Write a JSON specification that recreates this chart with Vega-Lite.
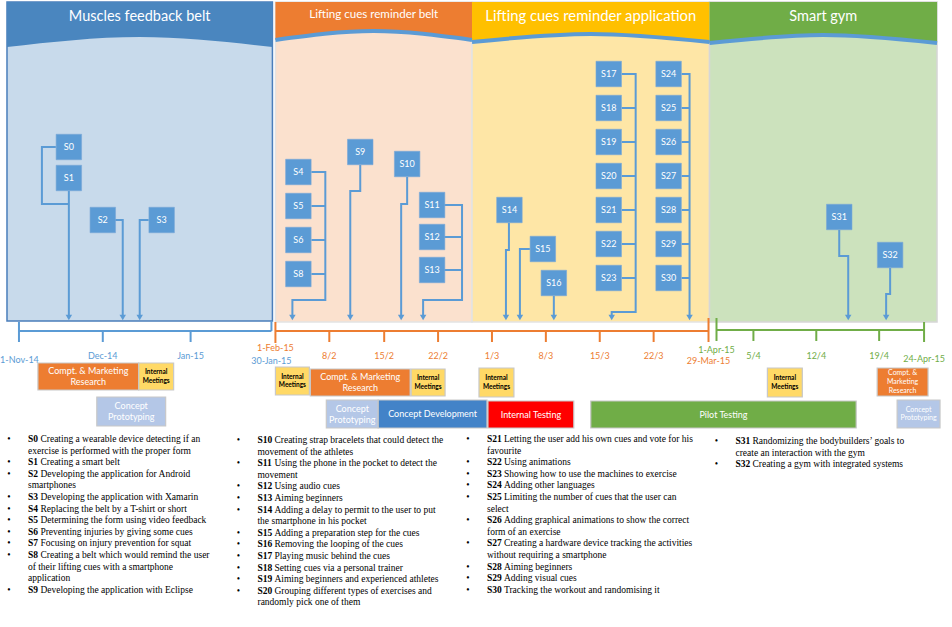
{
  "$schema": "https://vega.github.io/schema/vega-lite/v6.json",
  "width": 952,
  "height": 627,
  "autosize": {"type": "fit", "contains": "padding"},
  "padding": 0,
  "background": "white",
  "config": {"view": {"stroke": null}},
  "datasets": {
    "panels": [
      {"p": "A", "x": 5, "x2": 271, "y": 2, "y2": 321},
      {"p": "B", "x": 274, "x2": 471, "y": 2, "y2": 322},
      {"p": "C", "x": 471, "x2": 709, "y": 2, "y2": 322},
      {"p": "D", "x": 709, "x2": 937, "y": 2, "y2": 322}
    ],
    "hdr": [
      {"p": "A", "x": 5, "y": 47, "y2": 2},
      {"p": "A", "x": 138, "y": 37, "y2": 2},
      {"p": "A", "x": 271, "y": 47, "y2": 2},
      {"p": "B", "x": 274, "y": 40, "y2": 2},
      {"p": "B", "x": 372.5, "y": 31, "y2": 2},
      {"p": "B", "x": 471, "y": 40, "y2": 2},
      {"p": "C", "x": 471, "y": 42, "y2": 2},
      {"p": "C", "x": 590, "y": 34, "y2": 2},
      {"p": "C", "x": 709, "y": 42, "y2": 2},
      {"p": "D", "x": 709, "y": 43, "y2": 2},
      {"p": "D", "x": 823, "y": 35, "y2": 2},
      {"p": "D", "x": 937, "y": 43, "y2": 2}
    ],
    "titles": [
      {"p": "A", "x": 138, "y": 17, "t": "Muscles feedback belt"},
      {"p": "B", "x": 372.5, "y": 15, "t": "Lifting cues reminder belt"},
      {"p": "C", "x": 590, "y": 17, "t": "Lifting cues reminder application"},
      {"p": "D", "x": 823, "y": 17, "t": "Smart gym"}
    ],
    "links": [
      {"g": "s0", "o": 1, "x": 54, "y": 147}, {"g": "s0", "o": 2, "x": 40, "y": 147}, {"g": "s0", "o": 3, "x": 40, "y": 204}, {"g": "s0", "o": 4, "x": 67, "y": 204},
      {"g": "s1", "o": 1, "x": 67, "y": 191}, {"g": "s1", "o": 2, "x": 67, "y": 316},
      {"g": "s2", "o": 1, "x": 113, "y": 220}, {"g": "s2", "o": 2, "x": 121, "y": 220}, {"g": "s2", "o": 3, "x": 121, "y": 316},
      {"g": "s3", "o": 1, "x": 147, "y": 220}, {"g": "s3", "o": 2, "x": 138, "y": 220}, {"g": "s3", "o": 3, "x": 138, "y": 316},
      {"g": "s4", "o": 1, "x": 310, "y": 172}, {"g": "s4", "o": 2, "x": 324, "y": 172}, {"g": "s4", "o": 3, "x": 324, "y": 300}, {"g": "s4", "o": 4, "x": 291, "y": 300}, {"g": "s4", "o": 5, "x": 291, "y": 316},
      {"g": "s5", "o": 1, "x": 310, "y": 206}, {"g": "s5", "o": 2, "x": 324, "y": 206},
      {"g": "s6", "o": 1, "x": 310, "y": 240}, {"g": "s6", "o": 2, "x": 324, "y": 240},
      {"g": "s8", "o": 1, "x": 310, "y": 274}, {"g": "s8", "o": 2, "x": 324, "y": 274},
      {"g": "s9", "o": 1, "x": 359, "y": 165}, {"g": "s9", "o": 2, "x": 359, "y": 191}, {"g": "s9", "o": 3, "x": 349, "y": 191}, {"g": "s9", "o": 4, "x": 349, "y": 316},
      {"g": "s10", "o": 1, "x": 406, "y": 177}, {"g": "s10", "o": 2, "x": 406, "y": 204}, {"g": "s10", "o": 3, "x": 400, "y": 204}, {"g": "s10", "o": 4, "x": 400, "y": 316},
      {"g": "s11", "o": 1, "x": 443, "y": 205}, {"g": "s11", "o": 2, "x": 461, "y": 205}, {"g": "s11", "o": 3, "x": 461, "y": 300}, {"g": "s11", "o": 4, "x": 422, "y": 300}, {"g": "s11", "o": 5, "x": 422, "y": 316},
      {"g": "s12", "o": 1, "x": 443, "y": 237}, {"g": "s12", "o": 2, "x": 461, "y": 237},
      {"g": "s13", "o": 1, "x": 443, "y": 270}, {"g": "s13", "o": 2, "x": 461, "y": 270},
      {"g": "s14", "o": 1, "x": 508, "y": 223}, {"g": "s14", "o": 2, "x": 508, "y": 250}, {"g": "s14", "o": 3, "x": 505, "y": 250}, {"g": "s14", "o": 4, "x": 505, "y": 316},
      {"g": "s15", "o": 1, "x": 529, "y": 249}, {"g": "s15", "o": 2, "x": 519, "y": 249}, {"g": "s15", "o": 3, "x": 519, "y": 316},
      {"g": "s16", "o": 1, "x": 553, "y": 296}, {"g": "s16", "o": 2, "x": 553, "y": 316},
      {"g": "s17", "o": 1, "x": 621, "y": 74}, {"g": "s17", "o": 2, "x": 635, "y": 74}, {"g": "s17", "o": 3, "x": 635, "y": 312}, {"g": "s17", "o": 4, "x": 611, "y": 312}, {"g": "s17", "o": 5, "x": 611, "y": 316},
      {"g": "s18", "o": 1, "x": 621, "y": 108}, {"g": "s18", "o": 2, "x": 635, "y": 108},
      {"g": "s19", "o": 1, "x": 621, "y": 142}, {"g": "s19", "o": 2, "x": 635, "y": 142},
      {"g": "s20", "o": 1, "x": 621, "y": 176}, {"g": "s20", "o": 2, "x": 635, "y": 176},
      {"g": "s21", "o": 1, "x": 621, "y": 210}, {"g": "s21", "o": 2, "x": 635, "y": 210},
      {"g": "s22", "o": 1, "x": 621, "y": 244}, {"g": "s22", "o": 2, "x": 635, "y": 244},
      {"g": "s23", "o": 1, "x": 621, "y": 278}, {"g": "s23", "o": 2, "x": 635, "y": 278},
      {"g": "s24", "o": 1, "x": 681, "y": 74}, {"g": "s24", "o": 2, "x": 689, "y": 74}, {"g": "s24", "o": 3, "x": 689, "y": 316},
      {"g": "s25", "o": 1, "x": 681, "y": 108}, {"g": "s25", "o": 2, "x": 689, "y": 108},
      {"g": "s26", "o": 1, "x": 681, "y": 142}, {"g": "s26", "o": 2, "x": 689, "y": 142},
      {"g": "s27", "o": 1, "x": 681, "y": 176}, {"g": "s27", "o": 2, "x": 689, "y": 176},
      {"g": "s28", "o": 1, "x": 681, "y": 210}, {"g": "s28", "o": 2, "x": 689, "y": 210},
      {"g": "s29", "o": 1, "x": 681, "y": 244}, {"g": "s29", "o": 2, "x": 689, "y": 244},
      {"g": "s30", "o": 1, "x": 681, "y": 278}, {"g": "s30", "o": 2, "x": 689, "y": 278},
      {"g": "s31", "o": 1, "x": 839, "y": 230}, {"g": "s31", "o": 2, "x": 839, "y": 256}, {"g": "s31", "o": 3, "x": 848, "y": 256}, {"g": "s31", "o": 4, "x": 848, "y": 316},
      {"g": "s32", "o": 1, "x": 890, "y": 268}, {"g": "s32", "o": 2, "x": 890, "y": 294}, {"g": "s32", "o": 3, "x": 886, "y": 294}, {"g": "s32", "o": 4, "x": 886, "y": 316}
    ],
    "arrows": [
      {"x": 67, "y": 317.5}, {"x": 121, "y": 317.5}, {"x": 138, "y": 317.5},
      {"x": 291, "y": 317.5}, {"x": 349, "y": 317.5}, {"x": 400, "y": 317.5}, {"x": 422, "y": 317.5},
      {"x": 505, "y": 317.5}, {"x": 519, "y": 317.5}, {"x": 553, "y": 317.5}, {"x": 611, "y": 317.5}, {"x": 689, "y": 317.5},
      {"x": 848, "y": 317.5}, {"x": 886, "y": 317.5}
    ],
    "steps": [
      {"s": "S0", "x": 67, "y": 147}, {"s": "S1", "x": 67, "y": 178}, {"s": "S2", "x": 101, "y": 220}, {"s": "S3", "x": 160, "y": 220},
      {"s": "S4", "x": 297, "y": 172}, {"s": "S5", "x": 297, "y": 206}, {"s": "S6", "x": 297, "y": 240}, {"s": "S8", "x": 297, "y": 274},
      {"s": "S9", "x": 359, "y": 152}, {"s": "S10", "x": 406, "y": 164},
      {"s": "S11", "x": 431, "y": 205}, {"s": "S12", "x": 431, "y": 237}, {"s": "S13", "x": 431, "y": 270},
      {"s": "S14", "x": 508.5, "y": 210}, {"s": "S15", "x": 542, "y": 249}, {"s": "S16", "x": 553, "y": 283},
      {"s": "S17", "x": 608, "y": 74}, {"s": "S18", "x": 608, "y": 108}, {"s": "S19", "x": 608, "y": 142}, {"s": "S20", "x": 608, "y": 176},
      {"s": "S21", "x": 608, "y": 210}, {"s": "S22", "x": 608, "y": 244}, {"s": "S23", "x": 608, "y": 278},
      {"s": "S24", "x": 668, "y": 74}, {"s": "S25", "x": 668, "y": 108}, {"s": "S26", "x": 668, "y": 142}, {"s": "S27", "x": 668, "y": 176},
      {"s": "S28", "x": 668, "y": 210}, {"s": "S29", "x": 668, "y": 244}, {"s": "S30", "x": 668, "y": 278},
      {"s": "S31", "x": 839, "y": 217}, {"s": "S32", "x": 890, "y": 255}
    ],
    "ax": [
      {"c": "b", "x": 17, "y": 331, "x2": 270, "y2": 331},
      {"c": "b", "x": 17, "y": 322, "x2": 17, "y2": 342},
      {"c": "b", "x": 101, "y": 331, "x2": 101, "y2": 342},
      {"c": "b", "x": 189, "y": 331, "x2": 189, "y2": 342},
      {"c": "b", "x": 270, "y": 321, "x2": 270, "y2": 331},
      {"c": "o", "x": 274, "y": 331, "x2": 708, "y2": 331},
      {"c": "o", "x": 274, "y": 322, "x2": 274, "y2": 343},
      {"c": "o", "x": 328, "y": 331, "x2": 328, "y2": 342},
      {"c": "o", "x": 383, "y": 331, "x2": 383, "y2": 342},
      {"c": "o", "x": 437, "y": 331, "x2": 437, "y2": 342},
      {"c": "o", "x": 491, "y": 331, "x2": 491, "y2": 342},
      {"c": "o", "x": 545, "y": 331, "x2": 545, "y2": 342},
      {"c": "o", "x": 599, "y": 331, "x2": 599, "y2": 342},
      {"c": "o", "x": 653, "y": 331, "x2": 653, "y2": 342},
      {"c": "o", "x": 708, "y": 318, "x2": 708, "y2": 342},
      {"c": "g", "x": 716, "y": 330, "x2": 924, "y2": 330},
      {"c": "g", "x": 716, "y": 318, "x2": 716, "y2": 341},
      {"c": "g", "x": 753, "y": 330, "x2": 753, "y2": 341},
      {"c": "g", "x": 816, "y": 330, "x2": 816, "y2": 341},
      {"c": "g", "x": 879, "y": 330, "x2": 879, "y2": 341},
      {"c": "g", "x": 924, "y": 322, "x2": 924, "y2": 342}
    ],
    "axl": [
      {"c": "b", "x": 17.5, "y": 360, "t": "1-Nov-14"},
      {"c": "b", "x": 101, "y": 356, "t": "Dec-14"},
      {"c": "b", "x": 189, "y": 356, "t": "Jan-15"},
      {"c": "b", "x": 270, "y": 361, "t": "30-Jan-15"},
      {"c": "o", "x": 274, "y": 348, "t": "1-Feb-15"},
      {"c": "o", "x": 328, "y": 356, "t": "8/2"},
      {"c": "o", "x": 383, "y": 356, "t": "15/2"},
      {"c": "o", "x": 437, "y": 356, "t": "22/2"},
      {"c": "o", "x": 491, "y": 356, "t": "1/3"},
      {"c": "o", "x": 545, "y": 356, "t": "8/3"},
      {"c": "o", "x": 599, "y": 356, "t": "15/3"},
      {"c": "o", "x": 653, "y": 356, "t": "22/3"},
      {"c": "o", "x": 708, "y": 361, "t": "29-Mar-15"},
      {"c": "g", "x": 716, "y": 350, "t": "1-Apr-15"},
      {"c": "g", "x": 753, "y": 356, "t": "5/4"},
      {"c": "g", "x": 816, "y": 356, "t": "12/4"},
      {"c": "g", "x": 879, "y": 356, "t": "19/4"},
      {"c": "g", "x": 924, "y": 359, "t": "24-Apr-15"}
    ],
    "act": [
      {"k": "cmr", "x": 36, "x2": 137, "y": 363, "y2": 390, "cx": 86.5, "cy": 371, "t": "Compt. & Marketing\nResearch"},
      {"k": "im", "x": 137, "x2": 172, "y": 363, "y2": 390, "cx": 154.5, "cy": 372.3, "t": "Internal\nMeetings"},
      {"k": "cp", "x": 95, "x2": 164, "y": 397, "y2": 426, "cx": 129.5, "cy": 406, "t": "Concept\nPrototyping"},
      {"k": "im", "x": 274, "x2": 308, "y": 367, "y2": 395, "cx": 291, "cy": 376.8, "t": "Internal\nMeetings"},
      {"k": "cmr", "x": 309, "x2": 409, "y": 369, "y2": 396, "cx": 359, "cy": 377, "t": "Compt. & Marketing\nResearch"},
      {"k": "im", "x": 410, "x2": 444, "y": 369, "y2": 396, "cx": 427, "cy": 378.3, "t": "Internal\nMeetings"},
      {"k": "cp", "x": 325, "x2": 377, "y": 400, "y2": 428, "cx": 351, "cy": 408.5, "t": "Concept\nPrototyping"},
      {"k": "cd", "x": 377, "x2": 486, "y": 400, "y2": 428, "cx": 431.5, "cy": 414, "t": "Concept Development"},
      {"k": "it", "x": 487, "x2": 573, "y": 401, "y2": 428, "cx": 530, "cy": 414.5, "t": "Internal Testing"},
      {"k": "im", "x": 478, "x2": 513, "y": 368, "y2": 397, "cx": 495.5, "cy": 378.3, "t": "Internal\nMeetings"},
      {"k": "pt", "x": 590, "x2": 856, "y": 401, "y2": 428, "cx": 723, "cy": 414.5, "t": "Pilot Testing"},
      {"k": "im", "x": 767, "x2": 802, "y": 368, "y2": 397, "cx": 784.5, "cy": 378.3, "t": "Internal\nMeetings"},
      {"k": "cmrs", "x": 877, "x2": 928, "y": 368, "y2": 396, "cx": 902.5, "cy": 373.4, "t": "Compt. &\nMarketing\nResearch"},
      {"k": "cps", "x": 897, "x2": 940, "y": 400, "y2": 428, "cx": 918.5, "cy": 409.7, "t": "Concept\nPrototyping"}
    ],
    "desc": [
      {"b": 1, "x": 26, "tx": 38.5, "y": 439, "id": "S0", "t": "Creating a wearable device detecting if an"},
      {"b": 0, "x": 26, "tx": 26, "y": 450.6, "id": "", "t": "exercise is performed with the proper form"},
      {"b": 1, "x": 26, "tx": 38.5, "y": 462.2, "id": "S1", "t": "Creating a smart belt"},
      {"b": 1, "x": 26, "tx": 38.5, "y": 473.8, "id": "S2", "t": "Developing the application for Android"},
      {"b": 0, "x": 26, "tx": 26, "y": 485.4, "id": "", "t": "smartphones"},
      {"b": 1, "x": 26, "tx": 38.5, "y": 497, "id": "S3", "t": "Developing the application with Xamarin"},
      {"b": 1, "x": 26, "tx": 38.5, "y": 508.6, "id": "S4", "t": "Replacing the belt by a T-shirt or short"},
      {"b": 1, "x": 26, "tx": 38.5, "y": 520.2, "id": "S5", "t": "Determining the form using video feedback"},
      {"b": 1, "x": 26, "tx": 38.5, "y": 531.8, "id": "S6", "t": "Preventing injuries by giving some cues"},
      {"b": 1, "x": 26, "tx": 38.5, "y": 543.4, "id": "S7", "t": "Focusing on injury prevention for squat"},
      {"b": 1, "x": 26, "tx": 38.5, "y": 555, "id": "S8", "t": "Creating a belt which would remind the user"},
      {"b": 0, "x": 26, "tx": 26, "y": 566.6, "id": "", "t": "of their lifting cues with a smartphone"},
      {"b": 0, "x": 26, "tx": 26, "y": 578.2, "id": "", "t": "application"},
      {"b": 1, "x": 26, "tx": 38.5, "y": 589.8, "id": "S9", "t": "Developing the application with Eclipse"},
      {"b": 1, "x": 256, "tx": 273, "y": 440, "id": "S10", "t": "Creating strap bracelets that could detect the"},
      {"b": 0, "x": 256, "tx": 256, "y": 451.6, "id": "", "t": "movement of the athletes"},
      {"b": 1, "x": 256, "tx": 273, "y": 463.2, "id": "S11", "t": "Using the phone in the pocket to detect the"},
      {"b": 0, "x": 256, "tx": 256, "y": 474.8, "id": "", "t": "movement"},
      {"b": 1, "x": 256, "tx": 273, "y": 486.4, "id": "S12", "t": "Using audio cues"},
      {"b": 1, "x": 256, "tx": 273, "y": 498, "id": "S13", "t": "Aiming beginners"},
      {"b": 1, "x": 256, "tx": 273, "y": 509.6, "id": "S14", "t": "Adding a delay to permit to the user to put"},
      {"b": 0, "x": 256, "tx": 256, "y": 521.2, "id": "", "t": "the smartphone in his pocket"},
      {"b": 1, "x": 256, "tx": 273, "y": 532.8, "id": "S15", "t": "Adding a preparation step for the cues"},
      {"b": 1, "x": 256, "tx": 273, "y": 544.4, "id": "S16", "t": "Removing the looping of the cues"},
      {"b": 1, "x": 256, "tx": 273, "y": 556, "id": "S17", "t": "Playing music behind the cues"},
      {"b": 1, "x": 256, "tx": 273, "y": 567.6, "id": "S18", "t": "Setting cues via a personal trainer"},
      {"b": 1, "x": 256, "tx": 273, "y": 579.2, "id": "S19", "t": "Aiming beginners and experienced athletes"},
      {"b": 1, "x": 256, "tx": 273, "y": 590.8, "id": "S20", "t": "Grouping different types of exercises and"},
      {"b": 0, "x": 256, "tx": 256, "y": 602.4, "id": "", "t": "randomly pick one of them"},
      {"b": 1, "x": 486, "tx": 503, "y": 439, "id": "S21", "t": "Letting the user add his own cues and vote for his"},
      {"b": 0, "x": 486, "tx": 486, "y": 450.6, "id": "", "t": "favourite"},
      {"b": 1, "x": 486, "tx": 503, "y": 462.2, "id": "S22", "t": "Using animations"},
      {"b": 1, "x": 486, "tx": 503, "y": 473.8, "id": "S23", "t": "Showing how to use the machines to exercise"},
      {"b": 1, "x": 486, "tx": 503, "y": 485.4, "id": "S24", "t": "Adding other languages"},
      {"b": 1, "x": 486, "tx": 503, "y": 497, "id": "S25", "t": "Limiting the number of cues that the user can"},
      {"b": 0, "x": 486, "tx": 486, "y": 508.6, "id": "", "t": "select"},
      {"b": 1, "x": 486, "tx": 503, "y": 520.2, "id": "S26", "t": "Adding graphical animations to show the correct"},
      {"b": 0, "x": 486, "tx": 486, "y": 531.8, "id": "", "t": "form of an exercise"},
      {"b": 1, "x": 486, "tx": 503, "y": 543.4, "id": "S27", "t": "Creating a hardware device tracking the activities"},
      {"b": 0, "x": 486, "tx": 486, "y": 555, "id": "", "t": "without requiring a smartphone"},
      {"b": 1, "x": 486, "tx": 503, "y": 566.6, "id": "S28", "t": "Aiming beginners"},
      {"b": 1, "x": 486, "tx": 503, "y": 578.2, "id": "S29", "t": "Adding visual cues"},
      {"b": 1, "x": 486, "tx": 503, "y": 589.8, "id": "S30", "t": "Tracking the workout and randomising it"},
      {"b": 1, "x": 735, "tx": 752, "y": 441, "id": "S31", "t": "Randomizing the bodybuilders’ goals to"},
      {"b": 0, "x": 735, "tx": 735, "y": 452.6, "id": "", "t": "create an interaction with the gym"},
      {"b": 1, "x": 735, "tx": 752, "y": 464.2, "id": "S32", "t": "Creating a gym with integrated systems"}
    ]
  },
  "encoding": {
    "x": {"field": "x", "type": "quantitative", "scale": {"domain": [0, 952], "nice": false, "zero": false}, "axis": null},
    "y": {"field": "y", "type": "quantitative", "stack": null, "scale": {"domain": [0, 627], "nice": false, "zero": false, "reverse": true}, "axis": null}
  },
  "layer": [
    {
      "data": {"name": "panels"},
      "mark": {"type": "rect", "strokeWidth": 1.5},
      "encoding": {
        "x2": {"field": "x2"},
        "y2": {"field": "y2"},
        "fill": {"field": "p", "type": "nominal", "scale": {"domain": ["A", "B", "C", "D"], "range": ["#C8DAEB", "#FBE1CE", "#FEE6A6", "#CCE2BD"]}, "legend": null},
        "stroke": {"field": "p", "type": "nominal", "scale": {"domain": ["A", "B", "C", "D"], "range": ["#4A7EBB", "#E3E3E3", "#E3E3E3", "#D6D6D6"]}, "legend": null}
      }
    },
    {
      "data": {"name": "hdr"},
      "mark": {"type": "area", "interpolate": "natural"},
      "encoding": {
        "y2": {"field": "y2"},
        "fill": {"field": "p", "type": "nominal", "scale": {"domain": ["A", "B", "C", "D"], "range": ["#4A86BF", "#ED7D31", "#FFC000", "#70AD47"]}, "legend": null}
      }
    },
    {
      "data": {"name": "hdr"},
      "transform": [{"filter": "datum.p != 'A'"}],
      "mark": {"type": "line", "interpolate": "natural", "color": "#5B9BD5", "strokeWidth": 4},
      "encoding": {"detail": {"field": "p", "type": "nominal"}}
    },
    {
      "data": {"name": "titles"},
      "transform": [{"filter": "datum.p == 'A' || datum.p == 'D'"}],
      "mark": {"type": "text", "font": "Lato", "fontSize": 14.5, "color": "white", "align": "center", "baseline": "middle"},
      "encoding": {"text": {"field": "t"}}
    },
    {
      "data": {"name": "titles"},
      "transform": [{"filter": "datum.p == 'B'"}],
      "mark": {"type": "text", "font": "Lato", "fontSize": 11.6, "color": "white", "align": "center", "baseline": "middle"},
      "encoding": {"text": {"field": "t"}}
    },
    {
      "data": {"name": "titles"},
      "transform": [{"filter": "datum.p == 'C'"}],
      "mark": {"type": "text", "font": "Lato", "fontSize": 14.8, "color": "white", "align": "center", "baseline": "middle"},
      "encoding": {"text": {"field": "t"}}
    },
    {
      "data": {"name": "links"},
      "mark": {"type": "line", "color": "#5B9BD5", "strokeWidth": 2},
      "encoding": {
        "detail": {"field": "g", "type": "nominal"},
        "order": {"field": "o", "type": "quantitative"}
      }
    },
    {
      "data": {"name": "arrows"},
      "mark": {"type": "point", "shape": "triangle-down", "filled": true, "size": 42, "color": "#5B9BD5", "opacity": 1},
      "encoding": {}
    },
    {
      "data": {"name": "steps"},
      "mark": {"type": "square", "size": 650, "color": "#5B9BD5", "opacity": 1, "stroke": "#7BA7D6", "strokeWidth": 0.6},
      "encoding": {}
    },
    {
      "data": {"name": "steps"},
      "mark": {"type": "text", "font": "Lato", "fontSize": 9, "color": "white", "align": "center", "baseline": "middle"},
      "encoding": {"text": {"field": "s"}}
    },
    {
      "data": {"name": "ax"},
      "mark": {"type": "rule", "strokeWidth": 2},
      "encoding": {
        "x2": {"field": "x2"},
        "y2": {"field": "y2"},
        "stroke": {"field": "c", "type": "nominal", "scale": {"domain": ["b", "o", "g"], "range": ["#5B9BD5", "#ED7D31", "#70AD47"]}, "legend": null}
      }
    },
    {
      "data": {"name": "axl"},
      "mark": {"type": "text", "font": "Lato", "fontSize": 9, "align": "center", "baseline": "middle"},
      "encoding": {
        "text": {"field": "t"},
        "color": {"field": "c", "type": "nominal", "scale": {"domain": ["b", "o", "g"], "range": ["#5B9BD5", "#ED7D31", "#70AD47"]}, "legend": null}
      }
    },
    {
      "data": {"name": "act"},
      "mark": {"type": "rect", "stroke": "#C8C8C8", "strokeWidth": 1.2},
      "encoding": {
        "x2": {"field": "x2"},
        "y2": {"field": "y2"},
        "fill": {"field": "k", "type": "nominal", "scale": {"domain": ["cmr", "im", "cp", "cd", "it", "pt", "cmrs", "cps"], "range": ["#ED7D31", "#FFD966", "#B4C7E7", "#4383C8", "#FF0000", "#70AD47", "#ED7D31", "#B4C7E7"]}, "legend": null}
      }
    },
    {
      "data": {"name": "act"},
      "transform": [{"filter": "indexof(['cmr','cp','cd','it','pt'], datum.k) >= 0"}],
      "mark": {"type": "text", "font": "Lato", "fontSize": 9, "lineHeight": 11, "lineBreak": "\n", "color": "white", "align": "center", "baseline": "middle"},
      "encoding": {
        "x": {"field": "cx", "type": "quantitative", "scale": {"domain": [0, 952], "nice": false, "zero": false}, "axis": null},
        "y": {"field": "cy", "type": "quantitative", "scale": {"domain": [0, 627], "nice": false, "zero": false, "reverse": true}, "axis": null},
        "text": {"field": "t"}
      }
    },
    {
      "data": {"name": "act"},
      "transform": [{"filter": "datum.k == 'cmrs' || datum.k == 'cps'"}],
      "mark": {"type": "text", "font": "Lato", "fontSize": 7, "lineHeight": 8.6, "lineBreak": "\n", "color": "white", "align": "center", "baseline": "middle"},
      "encoding": {
        "x": {"field": "cx", "type": "quantitative", "scale": {"domain": [0, 952], "nice": false, "zero": false}, "axis": null},
        "y": {"field": "cy", "type": "quantitative", "scale": {"domain": [0, 627], "nice": false, "zero": false, "reverse": true}, "axis": null},
        "text": {"field": "t"}
      }
    },
    {
      "data": {"name": "act"},
      "transform": [{"filter": "datum.k == 'im'"}],
      "mark": {"type": "text", "font": "Lato", "fontSize": 6.5, "fontWeight": "bold", "lineHeight": 8.4, "lineBreak": "\n", "color": "black", "align": "center", "baseline": "middle"},
      "encoding": {
        "x": {"field": "cx", "type": "quantitative", "scale": {"domain": [0, 952], "nice": false, "zero": false}, "axis": null},
        "y": {"field": "cy", "type": "quantitative", "scale": {"domain": [0, 627], "nice": false, "zero": false, "reverse": true}, "axis": null},
        "text": {"field": "t"}
      }
    },
    {
      "data": {"name": "desc"},
      "transform": [{"filter": "datum.b == 1"}],
      "mark": {"type": "text", "font": "Liberation Serif", "fontSize": 9.5, "color": "black", "align": "center", "baseline": "middle", "dx": -19},
      "encoding": {"text": {"value": "•"}}
    },
    {
      "data": {"name": "desc"},
      "mark": {"type": "text", "font": "Liberation Serif", "fontSize": 9.5, "fontWeight": "bold", "color": "black", "align": "left", "baseline": "middle"},
      "encoding": {"text": {"field": "id"}}
    },
    {
      "data": {"name": "desc"},
      "mark": {"type": "text", "font": "Liberation Serif", "fontSize": 9.5, "color": "black", "align": "left", "baseline": "middle"},
      "encoding": {
        "x": {"field": "tx", "type": "quantitative", "scale": {"domain": [0, 952], "nice": false, "zero": false}, "axis": null},
        "text": {"field": "t"}
      }
    }
  ],
  "resolve": {"scale": {"fill": "independent", "stroke": "independent", "color": "independent"}}
}
